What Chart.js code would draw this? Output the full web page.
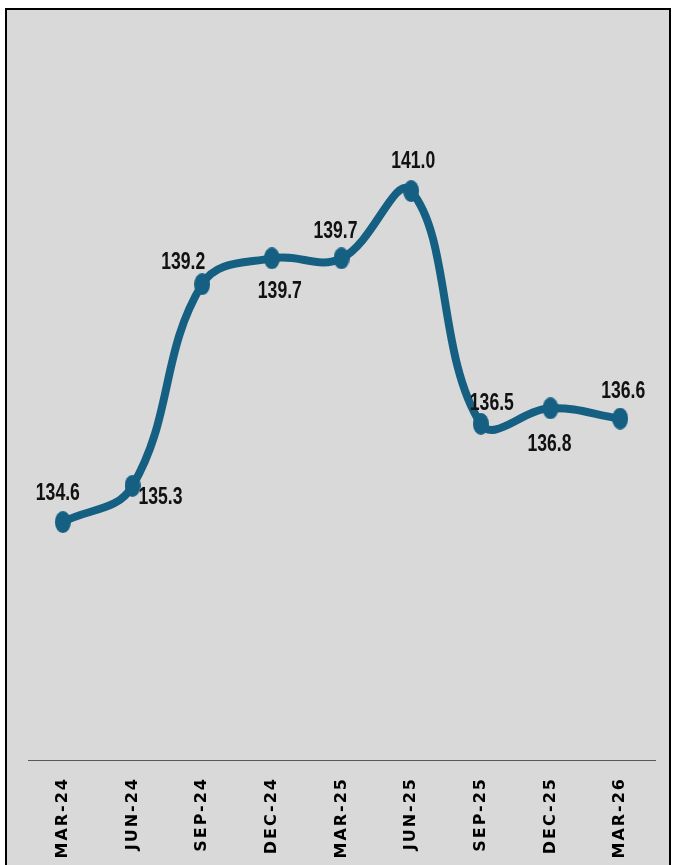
<!DOCTYPE html>
<html>
<head>
<meta charset="utf-8">
<script src="https://cdn.jsdelivr.net/npm/chart.js@4.4.1/dist/chart.umd.min.js"></script>
<style>
    html, body { margin: 0; padding: 0; background: #fff; overflow: hidden; }
    #frame {
        position: absolute; left: 5px; top: 8px; width: 662px; height: 900px;
        background: #d9d9d9; border: 2px solid #000; border-bottom: none;
    }
    #chart { position: absolute; left: 0; top: 0; }
</style>
</head>
<body>
<div id="frame"></div>
<canvas id="chart" width="673" height="900"></canvas>
<script>
const quarters = ['MAR-24', 'JUN-24', 'SEP-24', 'DEC-24', 'MAR-25', 'JUN-25', 'SEP-25', 'DEC-25', 'MAR-26'];
const indexValues = [134.6, 135.3, 139.2, 139.7, 139.7, 141.0, 136.5, 136.8, 136.6];
const yMin = 130;
const yMax = 144;

// where each value label sits relative to its point (px)
const labelOffsets = [[-5, -29], [28, 11], [-19, -22], [8, 33], [-6, -27], [2, -30], [11, -21], [-1, 36], [3, -27]];

const lineColor = '#156082';

function makeDot(w, h, color) {
    const c = document.createElement('canvas');
    c.width = w;
    c.height = h;
    const g = c.getContext('2d');
    g.fillStyle = color;
    g.beginPath();
    g.ellipse(w / 2, h / 2, w / 2, h / 2, 0, 0, Math.PI * 2);
    g.fill();
    return c;
}

// wider letter spacing for the axis labels only
const tickSpacing = {
    id: 'tickSpacing',
    beforeDraw(chart) { chart.ctx.letterSpacing = '2px'; },
    beforeDatasetsDraw(chart) { chart.ctx.letterSpacing = '0px'; }
};

const valueLabels = {
    id: 'valueLabels',
    afterDatasetsDraw(chart) {
        const ctx = chart.ctx;
        const meta = chart.getDatasetMeta(0);
        ctx.save();
        ctx.font = 'bold 20px "Liberation Sans Narrow", "Arial Narrow", sans-serif';
        ctx.fillStyle = '#111';
        ctx.textAlign = 'center';
        ctx.textBaseline = 'middle';
        meta.data.forEach((pt, i) => {
            const [dx, dy] = labelOffsets[i];
            ctx.save();
            ctx.translate(pt.x + dx, pt.y + dy);
            ctx.scale(0.88, 1.22);
            ctx.fillText(indexValues[i].toFixed(1), 0, 0);
            ctx.restore();
        });
        ctx.restore();
    }
};

const ctx = document.getElementById('chart').getContext('2d');
new Chart(ctx, {
    type: 'line',
    data: {
        labels: quarters,
        datasets: [{
            data: indexValues,
            borderColor: lineColor,
            borderWidth: 8,
            tension: 0.4,
            pointStyle: makeDot(16, 22, lineColor),
            pointRadius: 8,
            borderCapStyle: 'round'
        }]
    },
    options: {
        responsive: false,
        devicePixelRatio: 1,
        animation: false,
        layout: { padding: { left: 28, right: 18, top: 36, bottom: 0 } },
        plugins: {
            legend: { display: false },
            tooltip: { enabled: false }
        },
        scales: {
            x: {
                offset: true,
                grid: { display: false, drawTicks: false },
                border: { display: true, color: '#595959', width: 1 },
                ticks: {
                    color: '#000',
                    font: { family: 'DejaVu Sans', size: 16, weight: 'bold' },
                    minRotation: 90,
                    maxRotation: 90,
                    padding: 17,
                    autoSkip: false
                },
                afterFit(scale) { scale.height = 140; }
            },
            y: { display: false, min: yMin, max: yMax }
        }
    },
    plugins: [tickSpacing, valueLabels]
});
</script>
</body>
</html>
